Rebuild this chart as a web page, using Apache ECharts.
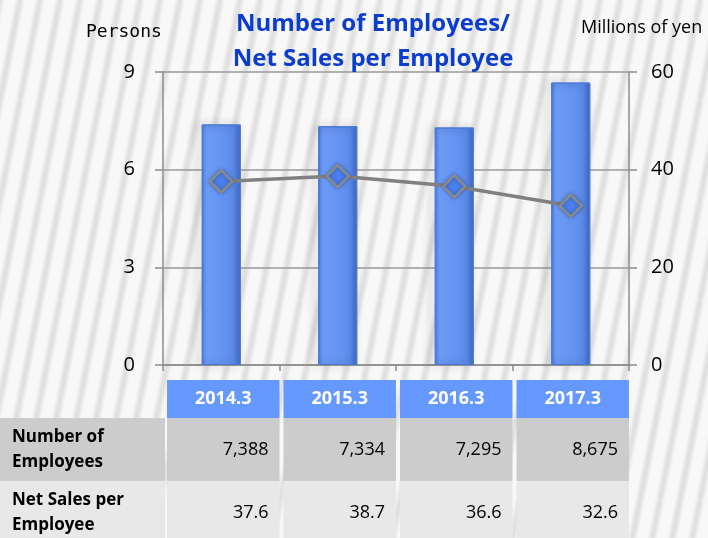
<!DOCTYPE html>
<html>
<head>
<meta charset="utf-8">
<script src="https://cdn.jsdelivr.net/npm/echarts@6/dist/echarts.min.js"></script>
<style>
  html, body { margin: 0; padding: 0; background: #fff; }
  #chart { width: 708px; height: 538px; }
</style>
</head>
<body>
<div id="chart"></div>
<script>
// data
const categories = ['2014.3', '2015.3', '2016.3', '2017.3'];
const employees = [7388, 7334, 7295, 8675];
const salesPerEmployee = [37.6, 38.7, 36.6, 32.6];
const rowLabels = ['Number of\nEmployees', 'Net Sales per\nEmployee'];

const SANS = '"Open Sans", "Liberation Sans", sans-serif';

// soft diagonal stripes for the background
function stripePattern() {
  const w = 20, h = 100;
  const c = document.createElement('canvas');
  c.width = w; c.height = h;
  const ctx = c.getContext('2d');
  ctx.fillStyle = '#f8f8f8';
  ctx.fillRect(0, 0, w, h);
  [[9, 'rgba(225,225,225,0.35)'], [6, 'rgba(220,220,220,0.4)'], [3, 'rgba(215,215,215,0.5)']].forEach(([lw, col]) => {
    ctx.strokeStyle = col;
    ctx.lineWidth = lw;
    for (const dx of [-w, 0, w]) {
      ctx.beginPath();
      ctx.moveTo(dx, h);
      ctx.lineTo(dx + w, 0);
      ctx.stroke();
    }
  });
  return c;
}

const chart = echarts.init(document.getElementById('chart'));

const barColor = new echarts.graphic.LinearGradient(0, 0, 1, 0, [
  { offset: 0, color: '#4c7de0' },
  { offset: 0.12, color: '#6c9bf6' },
  { offset: 0.82, color: '#5e8ef0' },
  { offset: 1, color: '#3d68c4' }
]);

chart.setOption({
  animation: false,
  title: {
    text: 'Number of Employees/\nNet Sales per Employee',
    left: 368,
    top: 2,
    textAlign: 'center',
    textStyle: {
      color: '#0a3cd0',
      fontFamily: SANS,
      fontWeight: 'bold',
      fontSize: 24,
      lineHeight: 35
    }
  },
  grid: { left: 163, right: 79, top: 72, bottom: 173 },
  xAxis: {
    type: 'category',
    data: categories,
    axisLine: { lineStyle: { color: '#8c8c8c', width: 1.5 } },
    axisTick: { show: true, length: 6, lineStyle: { color: '#8c8c8c', width: 1.5 } },
    axisLabel: { show: false }
  },
  yAxis: [
    {
      type: 'value',
      min: 0, max: 9000, interval: 3000,
      axisLine: { show: true, lineStyle: { color: '#8c8c8c', width: 1.5 } },
      axisTick: { show: true, length: 8, lineStyle: { color: '#8c8c8c', width: 1.5 } },
      axisLabel: {
        margin: 28, fontSize: 20, color: '#000', fontFamily: SANS,
        formatter: v => String(v / 1000)
      },
      splitLine: { lineStyle: { color: '#9a9a9a', width: 1.5 } }
    },
    {
      type: 'value',
      min: 0, max: 60, interval: 20,
      axisLine: { show: true, lineStyle: { color: '#8c8c8c', width: 1.5 } },
      axisTick: { show: true, length: 8, lineStyle: { color: '#8c8c8c', width: 1.5 } },
      axisLabel: { margin: 22, fontSize: 20, color: '#000', fontFamily: SANS },
      splitLine: { show: false }
    }
  ],
  series: [
    {
      type: 'bar',
      data: employees,
      barWidth: 39,
      itemStyle: {
        color: barColor,
        borderColor: '#4a78d6',
        borderWidth: 1,
        shadowColor: 'rgba(0,0,0,0.45)',
        shadowBlur: 9,
        shadowOffsetX: -4
      }
    },
    {
      type: 'line',
      yAxisIndex: 1,
      data: salesPerEmployee,
      symbol: 'diamond',
      symbolSize: 22,
      lineStyle: { color: '#808080', width: 3.5 },
      itemStyle: {
        color: '#4a80ee',
        borderColor: '#8a8a8a',
        borderWidth: 2.5,
        shadowColor: 'rgba(0,0,0,0.3)',
        shadowBlur: 4
      },
      z: 3
    }
  ]
});

// table and labels, aligned to the category axis
function buildGraphics() {
  const els = [];
  els.push({
    type: 'rect', z: -100, silent: true,
    shape: { x: 0, y: 0, width: 708, height: 538 },
    style: { fill: { image: stripePattern(), repeat: 'repeat' } }
  });
  els.push({
    type: 'text', left: 86, top: 23,
    style: { text: 'Persons', font: '18px "DejaVu Sans Mono", monospace', fill: '#000' }
  });
  els.push({
    type: 'text', left: 581, top: 19,
    style: { text: 'Millions of yen', font: '18px ' + SANS, fill: '#000' }
  });

  const c0 = chart.convertToPixel({ xAxisIndex: 0 }, 0);
  const c1 = chart.convertToPixel({ xAxisIndex: 0 }, 1);
  const step = c1 - c0;
  const rows = [
    { y: 380, h: 38 },
    { y: 418, h: 63, bg: '#cccccc' },
    { y: 481, h: 63, bg: '#e8e8e8' }
  ];
  const firstEdge = c0 - step / 2;

  // row label column
  [1, 2].forEach(r => {
    els.push({
      type: 'rect', shape: { x: 0, y: rows[r].y, width: firstEdge + 2, height: rows[r].h },
      style: { fill: rows[r].bg }
    });
    els.push({
      type: 'text', x: 12, y: rows[r].y + rows[r].h / 2,
      style: {
        text: rowLabels[r - 1], fill: '#000', fontFamily: SANS, fontWeight: 'bold',
        fontSize: 17, lineHeight: 25, verticalAlign: 'middle', align: 'left'
      }
    });
  });

  categories.forEach((cat, i) => {
    const cx = chart.convertToPixel({ xAxisIndex: 0 }, i);
    const x0 = cx - step / 2 + 4;
    const x1 = cx + step / 2;
    const w = x1 - x0;
    els.push({
      type: 'rect', shape: { x: x0, y: rows[0].y, width: w, height: rows[0].h },
      style: { fill: '#6699ff' }
    });
    els.push({
      type: 'text', x: x0 + w / 2, y: rows[0].y + rows[0].h / 2,
      style: {
        text: cat, fill: '#fff', fontFamily: SANS, fontWeight: 'bold', fontSize: 18,
        align: 'center', verticalAlign: 'middle'
      }
    });
    const vals = [employees[i].toLocaleString('en-US'), salesPerEmployee[i].toFixed(1)];
    [1, 2].forEach(r => {
      els.push({
        type: 'rect', shape: { x: x0, y: rows[r].y, width: w, height: rows[r].h },
        style: { fill: rows[r].bg }
      });
      els.push({
        type: 'text', x: x1 - 11, y: rows[r].y + rows[r].h / 2,
        style: {
          text: vals[r - 1], fill: '#000', fontFamily: SANS, fontSize: 18,
          align: 'right', verticalAlign: 'middle'
        }
      });
    });
  });
  return els;
}

chart.setOption({ graphic: buildGraphics() });
</script>
</body>
</html>
